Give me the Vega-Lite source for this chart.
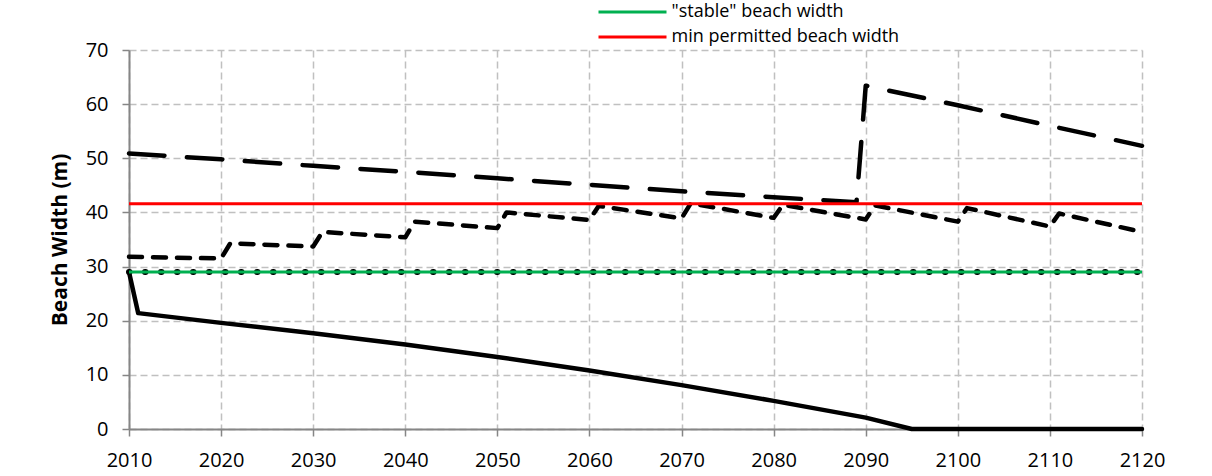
{
  "$schema": "https://vega.github.io/schema/vega-lite/v6.json",
  "autosize": {"type": "none"},
  "width": 1013,
  "height": 379,
  "padding": {"left": 129, "top": 50, "right": 70, "bottom": 47},
  "background": "white",
  "config": {
    "view": {"stroke": null},
    "font": "Open Sans",
    "axis": {
      "labelFont": "Open Sans", "labelFontSize": 20, "labelColor": "#000000",
      "domainColor": "#868686", "domainWidth": 2,
      "tickColor": "#868686", "tickWidth": 1.5, "tickSize": 7,
      "gridColor": "#c0c0c0", "gridDash": [7, 4], "gridWidth": 1.5
    }
  },
  "datasets": {
    "series": [
      {"s": "solid", "year": 2010, "w": 29.0},
      {"s": "solid", "year": 2011, "w": 21.4},
      {"s": "solid", "year": 2020, "w": 19.6},
      {"s": "solid", "year": 2030, "w": 17.7},
      {"s": "solid", "year": 2040, "w": 15.6},
      {"s": "solid", "year": 2050, "w": 13.3},
      {"s": "solid", "year": 2060, "w": 10.8},
      {"s": "solid", "year": 2070, "w": 8.1},
      {"s": "solid", "year": 2080, "w": 5.2},
      {"s": "solid", "year": 2090, "w": 2.1},
      {"s": "solid", "year": 2095, "w": 0},
      {"s": "solid", "year": 2120, "w": 0},
      {"s": "long", "year": 2010, "w": 50.9},
      {"s": "long", "year": 2020, "w": 49.8},
      {"s": "long", "year": 2030, "w": 48.6},
      {"s": "long", "year": 2040, "w": 47.5},
      {"s": "long", "year": 2050, "w": 46.3},
      {"s": "long", "year": 2060, "w": 45.1},
      {"s": "long", "year": 2070, "w": 43.9},
      {"s": "long", "year": 2080, "w": 42.8},
      {"s": "long", "year": 2089, "w": 41.9},
      {"s": "long", "year": 2090, "w": 63.4},
      {"s": "long", "year": 2100, "w": 59.8},
      {"s": "long", "year": 2110, "w": 56.0},
      {"s": "long", "year": 2120, "w": 52.3},
      {"s": "short", "year": 2010, "w": 31.8},
      {"s": "short", "year": 2020, "w": 31.5},
      {"s": "short", "year": 2021, "w": 34.3},
      {"s": "short", "year": 2030, "w": 33.7},
      {"s": "short", "year": 2031, "w": 36.4},
      {"s": "short", "year": 2040, "w": 35.4},
      {"s": "short", "year": 2041, "w": 38.3},
      {"s": "short", "year": 2050, "w": 37.1},
      {"s": "short", "year": 2051, "w": 40.0},
      {"s": "short", "year": 2060, "w": 38.6},
      {"s": "short", "year": 2061, "w": 41.2},
      {"s": "short", "year": 2070, "w": 38.9},
      {"s": "short", "year": 2071, "w": 41.7},
      {"s": "short", "year": 2080, "w": 39.0},
      {"s": "short", "year": 2081, "w": 41.4},
      {"s": "short", "year": 2090, "w": 38.7},
      {"s": "short", "year": 2091, "w": 41.3},
      {"s": "short", "year": 2100, "w": 38.3},
      {"s": "short", "year": 2101, "w": 40.8},
      {"s": "short", "year": 2110, "w": 37.4},
      {"s": "short", "year": 2111, "w": 39.8},
      {"s": "short", "year": 2120, "w": 36.4},
      {"s": "dotted", "year": 2010, "w": 29.0},
      {"s": "dotted", "year": 2120, "w": 29.0}
    ],
    "refs": [
      {"name": "\"stable\" beach width", "w": 29.0},
      {"name": "min permitted beach width", "w": 41.6}
    ]
  },
  "encoding": {
    "x": {
      "field": "year", "type": "quantitative",
      "scale": {"domain": [2010, 2120], "nice": false, "zero": false},
      "axis": {"title": null, "values": [2010, 2020, 2030, 2040, 2050, 2060, 2070, 2080, 2090, 2100, 2110, 2120], "format": "d", "labelPadding": 14, "labelFlush": false}
    },
    "y": {
      "field": "w", "type": "quantitative",
      "scale": {"domain": [0, 70], "nice": false},
      "axis": {"title": "Beach Width (m)", "titleFont": "Open Sans", "titleFontSize": 21, "titleFontWeight": "bold", "titleColor": "#000000", "titlePadding": 15, "values": [0, 10, 20, 30, 40, 50, 60, 70], "labelPadding": 14}
    }
  },
  "layer": [
    {
      "data": {"name": "series"},
      "transform": [{"filter": "datum.s === 'solid'"}],
      "mark": {"type": "line", "color": "#000000", "strokeWidth": 4.5, "strokeJoin": "round", "strokeCap": "round"}
    },
    {
      "data": {"name": "series"},
      "transform": [{"filter": "datum.s === 'long'"}],
      "mark": {"type": "line", "color": "#000000", "strokeWidth": 4.5, "strokeDash": [35.5, 22.5], "strokeCap": "round", "strokeJoin": "round"}
    },
    {
      "data": {"name": "series"},
      "transform": [{"filter": "datum.s === 'short'"}],
      "mark": {"type": "line", "color": "#000000", "strokeWidth": 4.5, "strokeDash": [13, 11], "strokeCap": "round", "strokeJoin": "round"}
    },
    {
      "data": {"name": "series"},
      "transform": [{"filter": "datum.s === 'dotted'"}],
      "mark": {"type": "line", "color": "#000000", "strokeWidth": 6, "strokeDash": [0.5, 15.5], "strokeCap": "round"}
    },
    {
      "data": {"name": "refs"},
      "mark": {"type": "rule", "strokeWidth": 3},
      "encoding": {
        "x": {"value": 0},
        "x2": {"value": 1013},
        "y": {"field": "w", "type": "quantitative"},
        "color": {
          "field": "name", "type": "nominal",
          "scale": {"domain": ["\"stable\" beach width", "min permitted beach width"], "range": ["#00b050", "#ff0000"]},
          "legend": {
            "title": null, "orient": "none", "legendX": 493.5, "legendY": -48,
            "symbolType": "M-4,0H4", "symbolSize": 289, "symbolStrokeWidth": 3,
            "labelFont": "Open Sans", "labelFontSize": 18, "labelColor": "#000000", "labelOffset": 29, "labelLimit": 400,
            "rowPadding": 6, "padding": 0
          }
        }
      }
    }
  ]
}
